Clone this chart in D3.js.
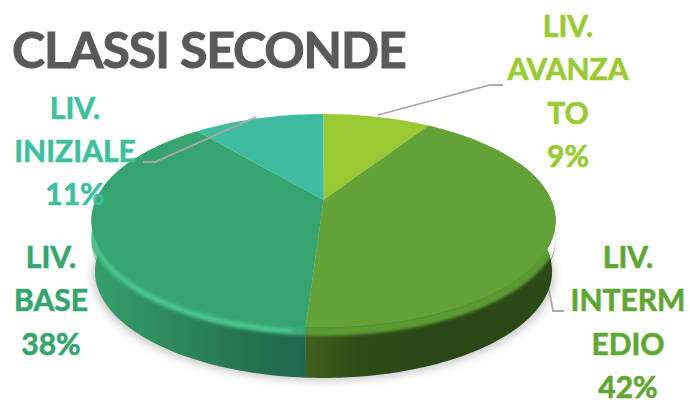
<!DOCTYPE html>
<meta charset="utf-8">
<style>
html, body { margin: 0; padding: 0; background: #fff; }
svg { display: block; }
.label { font: 700 30px Lato, sans-serif; text-anchor: middle; stroke-width: 0.6px; }
.title { font: 700 50px Lato, sans-serif; fill: #595959; stroke: #595959; stroke-width: 1px; letter-spacing: -1.1px; }
</style>
<body>
<svg width="690" height="400"></svg>
<script src="https://d3js.org/d3.v7.min.js"></script>
<script>
var categories = ["LIV. AVANZATO", "LIV. INTERMEDIO", "LIV. BASE", "LIV. INIZIALE"];
var values = [9, 42, 38, 11];
var topColors = ["#99ca33", "#62a236", "#36a46e", "#3fbc9f"];
var labelColors = ["#9acb34", "#5fa636", "#35a46d", "#3fbfa0"];
var labelLines = [["LIV.", "AVANZA", "TO", "9%"], ["LIV.", "INTERM", "EDIO", "42%"], ["LIV.", "BASE", "38%"], ["LIV.", "INIZIALE", "11%"]];

var svg = d3.select("svg"),
    defs = svg.append("defs");

// pie drawn in perspective: apex is above the middle of the ellipse
var cx = 323.5, apexY = 200, a = 227.7, b = 102.5, k = -0.1925, depth = 51, shoulder = 18, shrink = 0.985;

function project(t, dy, s) {
  var u = Math.sin(t), v = -Math.cos(t), w = 1 + k * v;
  return [cx + (s || 1) * a * u / w, apexY + b * v / w + (dy || 0)];
}

function sample(t0, t1, dy, s) {
  var n = Math.max(2, Math.ceil((t1 - t0) * 40));
  return d3.range(n + 1).map(function(i) { return project(t0 + (t1 - t0) * i / n, dy, s); });
}

var line = d3.line();
var slices = d3.pie().sort(null)(values);
var full = 2 * Math.PI, split = slices[1].endAngle;
// the widest points of the ellipse sit a bit behind the quarter angles
var sideRight = Math.PI / 2 - 0.4, sideLeft = 3 * Math.PI / 2 + 0.4;

// ground shadow
defs.append("filter").attr("id", "soft").attr("x", "-10%").attr("y", "-10%").attr("width", "120%").attr("height", "120%")
  .append("feGaussianBlur").attr("stdDeviation", 3.5);
svg.append("path")
  .attr("d", line(sample(0, full, depth + 4)) + "Z")
  .attr("fill", "#b5b5b5")
  .attr("fill-opacity", 0.6)
  .attr("filter", "url(#soft)");

// leader lines
var leaders = [
  [[378, 115], [490, 85], [503, 85]],
  [[548, 285], [553, 311], [564, 311]],
  null,
  [[256, 117], [155, 162], [143, 162]]
];
function drawLeader(d) {
  svg.append("path").attr("d", line(d)).attr("fill", "none").attr("stroke", "#aca8aa").attr("stroke-width", 1.8);
}
drawLeader(leaders[1]);

function wallGradient(id, stops, x1, x2) {
  var g = defs.append("linearGradient").attr("id", id).attr("gradientUnits", "userSpaceOnUse")
    .attr("x1", x1).attr("x2", x2).attr("y1", 0).attr("y2", 0);
  stops.forEach(function(s) { g.append("stop").attr("offset", s[0]).attr("stop-color", s[1]); });
}
wallGradient("wallGreen", [[0, "#2b4a17"], [0.5, "#294716"], [0.8, "#2f4c17"], [1, "#3f601d"]], 556, 306);
wallGradient("wallTeal", [[0, "#36a06b"], [0.35, "#2f8a5c"], [0.75, "#25714f"], [1, "#1f6651"]], 91, 306);

// straight down to the shoulder, then tapering to the bottom
function wallPath(t0, t1) {
  return line(sample(t0, t1, 0).concat(sample(t0, t1, shoulder + 1).reverse())) + "Z" +
    line(sample(t0, t1, shoulder).concat(sample(t0, t1, depth, shrink).reverse())) + "Z";
}

// side wall, only the front part of the rim shows
svg.append("path").attr("d", wallPath(sideRight, split)).attr("fill", "url(#wallGreen)");
svg.append("path").attr("d", wallPath(split, sideLeft)).attr("fill", "url(#wallTeal)");

// bevel between top face and wall, clipped so it stays inside the silhouette
var clip = defs.append("clipPath").attr("id", "body");
clip.append("path").attr("d", wallPath(sideRight, sideLeft));
clip.append("path").attr("d", line(sample(0, full)) + "Z");
defs.append("filter").attr("id", "bevelBlur").attr("x", "-5%").attr("y", "-10%").attr("width", "110%").attr("height", "120%")
  .append("feGaussianBlur").attr("stdDeviation", 1.5);

var bevel = svg.append("g").attr("clip-path", "url(#body)");
bevel.append("path")
  .attr("d", line(sample(sideRight, split, 4)))
  .attr("fill", "none").attr("stroke", "#5c9a31").attr("stroke-width", 10).attr("filter", "url(#bevelBlur)");
bevel.append("path")
  .attr("d", line(sample(split, sideLeft, 4)))
  .attr("fill", "none").attr("stroke", "#3aae77").attr("stroke-width", 10).attr("filter", "url(#bevelBlur)");
bevel.append("path")
  .attr("d", line(sample(split + 0.05, sideLeft - 0.3, 5)))
  .attr("fill", "none").attr("stroke", "#4fd096").attr("stroke-width", 3).attr("filter", "url(#bevelBlur)");

// top face
svg.append("g").selectAll("path")
  .data(slices)
  .enter().append("path")
    .attr("d", function(d) {
      return line([[cx, apexY]].concat(sample(d.startAngle, d.endAngle))) + "Z";
    })
    .attr("fill", function(d, i) { return topColors[i]; });

drawLeader(leaders[0]);
drawLeader(leaders[3]);

// title
svg.append("text").attr("class", "title").attr("x", 12).attr("y", 68).text("CLASSI SECONDE");

// data labels
var labelX = [568, 628, 51, 75], labelBase = [37, 268, 268, 118.5], lineH = 43.4;
labelLines.forEach(function(rows, i) {
  rows.forEach(function(r, j) {
    svg.append("text").attr("class", "label")
      .attr("x", labelX[i]).attr("y", labelBase[i] + j * lineH)
      .attr("fill", labelColors[i]).attr("stroke", labelColors[i]).text(r);
  });
});
</script>
</body>
